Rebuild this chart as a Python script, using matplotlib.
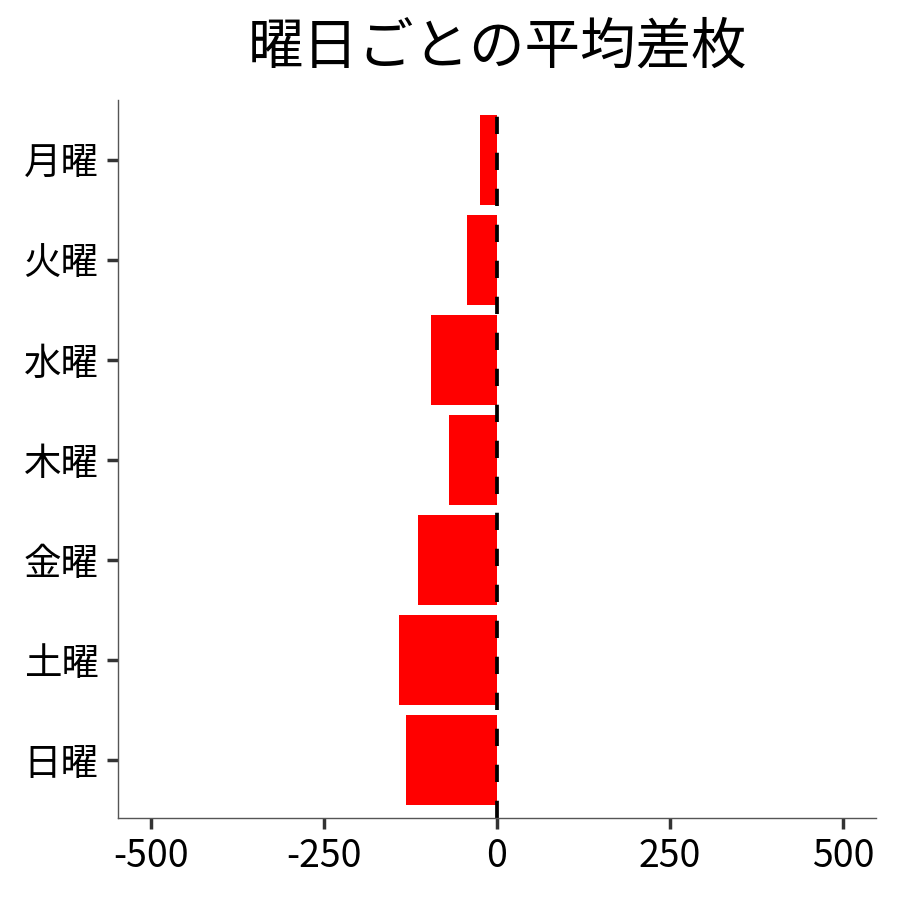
import matplotlib
matplotlib.use("Agg")
import matplotlib.pyplot as plt

plt.rcParams['font.family'] = ['Noto Sans CJK JP', 'DejaVu Sans']

# 曜日ごとの平均差枚
days = ["月曜", "火曜", "水曜", "木曜", "金曜", "土曜", "日曜"]
avg_diff = [-25, -44, -96, -70, -114, -142, -131]
xticks = [-500, -250, 0, 250, 500]

fig = plt.figure(figsize=(9, 9), dpi=100)
ax = fig.add_axes([118 / 900, 82 / 900, 758 / 900, 718 / 900])

pos = list(range(len(days)))
ax.barh(pos, avg_diff, height=0.9, color="#ff0000")
ax.axvline(0, color="black", linestyle=(0, (4.6, 5.0)), linewidth=2.7)

ax.set_xlim(-548, 548)
ax.set_ylim(len(days) - 0.42, -0.6)
ax.set_yticks(pos)
ax.set_yticklabels(days)
ax.set_xticks(xticks)
ax.set_xticklabels([str(v) for v in xticks])

for s in ["top", "right"]:
    ax.spines[s].set_visible(False)
for s in ["left", "bottom"]:
    ax.spines[s].set_color("#555555")
    ax.spines[s].set_linewidth(1)
ax.tick_params(axis="both", length=8, width=2.5, color="#333333",
               labelsize=27, labelcolor="black", pad=6)

ax.set_title("曜日ごとの平均差枚", fontsize=40, pad=26)

fig.savefig("out.png", dpi=100)
